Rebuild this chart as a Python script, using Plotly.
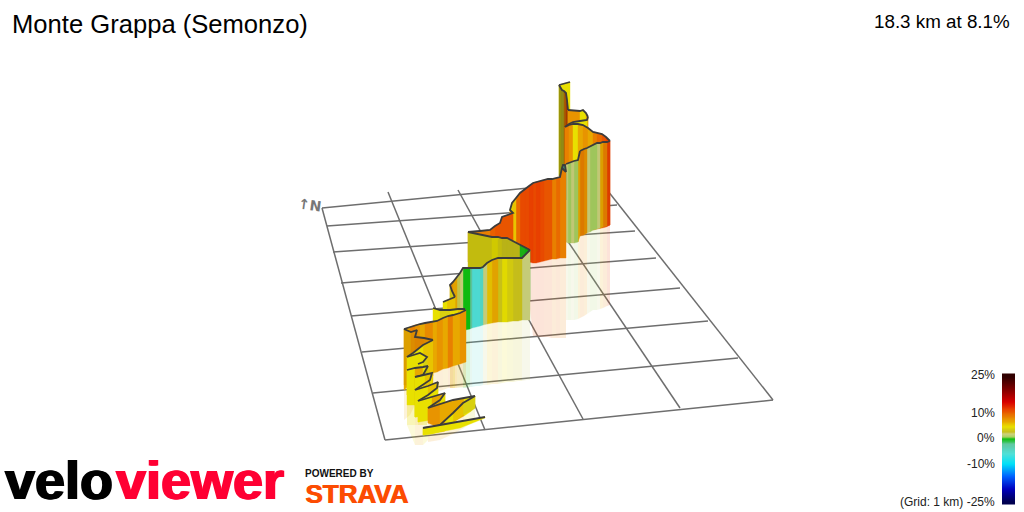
import plotly.graph_objects as go

# ---------- ground grid (picture coordinates) ----------
grid_left_x = [322, 327, 333, 341, 351, 362, 373, 385]
grid_left_y = [208, 226, 252, 283, 316, 352, 393, 440]
grid_right_x = [600, 617, 635, 656, 680, 708, 738, 773]
grid_right_y = [181, 205, 231, 258, 288, 321, 358, 400]
grid_far_x = [322, 388, 458, 530, 600]
grid_far_y = [208, 192, 190, 185, 181]
grid_near_x = [385, 485, 583, 680, 773]
grid_near_y = [440, 430, 419, 408, 400]

# ---------- gradient scale ----------
scale_pct = [-25, -20, -15, -10, -6, -2, 0, 1, 2, 3, 5, 7, 9, 12, 15, 20, 25]
scale_col = ["#000050", "#0000c0", "#0060ff", "#00e0f8", "#50e0d8", "#60c8a0", "#10c010",
             "#a8d060", "#ccd27c", "#c8c020", "#e8e000", "#e8a800", "#e88000", "#e84000",
             "#d80000", "#800000", "#300000"]
legend_pct = [25, 23, 21, 19, 17, 15, 13, 12, 11, 10, 9, 8, 7, 6, 5, 4, 3, 2, 1, 0, -1, -2, -3, -4, -6,
              -8, -10, -12, -14, -16, -18, -20, -22, -25]
legend_labels = ["25%", "10%", "0%", "-10%"]
legend_label_y = [375, 413, 438, 464]

# ---------- climb ribbons, far to near: x, ridge, ground, reflection end, grade ----------
t1_x = [559, 562, 566, 570]
t1_top = [85, 84, 83, 82]
t1_base = [176, 176, 176, 176]
t1_refl = [176, 176, 176, 176]
t1_g = [5, 5, 5]

t2_x = [559, 561, 562, 564, 566, 567, 568]
t2_top = [85, 88, 90, 91, 93, 100, 110]
t2_base = [176, 176, 176, 176, 176, 176, 176]
t2_refl = [176, 176, 176, 176, 176, 176, 176]
t2_g = [4, 3, 3, 9, 12, 9]

t3_x = [568, 575, 580, 583, 586, 588]
t3_top = [110, 111, 111, 110, 113, 117]
t3_base = [170, 170, 170, 170, 170, 170]
t3_refl = [170, 170, 170, 170, 170, 170]
t3_g = [8, 8, 5, 5, 7]

t4_x = [588, 587, 580, 573, 569, 565]
t4_top = [117, 120, 121, 122, 124, 127]
t4_base = [170, 170, 170, 170, 170, 170]
t4_refl = [170, 170, 170, 170, 170, 170]
t4_g = [7, 5, 5, 8, 9]

r3_x = [565, 569, 573, 578, 583, 588, 593, 597, 602, 606, 610]
r3_top = [127, 125, 124, 124, 125, 128, 132, 133, 134, 137, 141]
r3_base = [232, 232, 232, 232, 232, 230, 230, 229, 228, 227, 225]
r3_refl = [232, 232, 232, 232, 232, 230, 230, 229, 228, 227, 225]
r3_g = [9, 8, 5, 7, 8, 7, 9, 10, 11, 12]

r4_x = [610, 607, 603, 600, 597, 593, 590, 587, 584, 580]
r4_top = [141, 142, 142, 143, 143, 145, 147, 148, 149, 151]
r4_base = [225, 226, 227, 228, 229, 230, 232, 233, 235, 236]
r4_refl = [305, 306, 308, 309, 310, 310, 312, 314, 316, 318]
r4_g = [12, 9, 7, 2, 1, 1, 2, 8, 9]

r4b_x = [580, 578, 574, 571, 568, 566]
r4b_top = [151, 160, 161, 162, 163, 164]
r4b_base = [236, 242, 243, 243, 243, 242]
r4b_refl = [318, 319, 320, 320, 320, 320]
r4b_g = [7, 1, 2, 1, 2]

teal_x = [562, 563, 565, 566]
teal_top = [168, 165, 165, 172]
teal_base = [200, 200, 200, 200]
teal_refl = [200, 200, 200, 200]
teal_g = [-3, -3, -3]

r5_x = [566, 562, 560, 556, 552, 548, 544, 540, 536, 533, 529, 525, 520, 516, 512, 510, 513, 502, 500, 495, 490, 480, 468]
r5_top = [172, 168, 177, 178, 179, 179, 180, 181, 182, 183, 186, 189, 193, 198, 203, 210, 213, 217, 223, 226, 230, 231, 232]
r5_base = [258, 258, 258, 259, 259, 260, 261, 262, 263, 263, 262, 261, 260, 260, 260, 260, 260, 260, 260, 260, 260, 262, 262]
r5_refl = [338, 338, 338, 338, 338, 337, 337, 337, 336, 336, 300, 300, 300, 300, 300, 300, 300, 300, 300, 300, 300, 300, 300]
r5_g = [9, 9, 10, 9, 11, 11, 11.5, 12, 11.5, 12, 11.5, 11.5, 10, 6, 5, 9, 11, 11, 11, 10.5, 9, 9]

r6_x = [468, 478, 486, 492, 498, 502, 507, 513, 520, 525, 530]
r6_top = [232, 234, 236, 237, 237, 238, 238, 241, 245, 247, 250]
r6_base = [300, 300, 300, 300, 300, 300, 300, 300, 300, 300, 300]
r6_refl = [300, 300, 300, 300, 300, 300, 300, 300, 300, 300, 300]
r6_g = [4, 4, 4, 5, 4, 3.4, 3.4, 3.4, 0.1, 0]

r7_x = [530, 527, 522, 518, 513, 507, 502, 498, 492, 487, 483, 480, 476, 472, 470, 465, 463, 460, 457, 453, 450, 452, 455]
r7_top = [250, 253, 258, 258, 258, 258, 258, 258, 260, 263, 267, 268, 268, 268, 268, 268, 268, 273, 277, 282, 285, 291, 297]
r7_base = [320, 320, 320, 321, 321, 322, 322, 322, 323, 324, 325, 326, 327, 328, 329, 330, 330, 330, 330, 330, 330, 330, 330]
r7_refl = [380, 380, 381, 381, 382, 382, 383, 384, 384, 385, 385, 386, 386, 387, 387, 388, 388, 388, 388, 388, 388, 388, 388]
r7_g = [2, 2, 3.2, 3.2, 4, 5, 3.4, 7, 6, 2, -5, -6, -6, -2, 0, 0, 2, 2.5, 7, 8, 4, 4]

l0_x = [455, 450, 447, 443]
l0_top = [297, 299, 300, 302]
l0_base = [320, 320, 320, 320]
l0_refl = [320, 320, 320, 320]
l0_g = [6, 6, 5]

l1_x = [433, 440, 450, 458, 465]
l1_top = [308, 310, 310, 309, 309]
l1_base = [330, 330, 330, 330, 330]
l1_refl = [330, 330, 330, 330, 330]
l1_g = [5, 4, 5, 6]

l2_x = [404, 410, 415, 420, 425, 433, 437, 443, 448, 453, 460, 466]
l2_top = [329, 327, 325, 324, 323, 322, 321, 318, 316, 315, 313, 310]
l2_base = [390, 385, 380, 378, 375, 373, 372, 369, 368, 366, 364, 362]
l2_refl = [420, 415, 405, 402, 398, 395, 392, 390, 388, 388, 387, 387]
l2_g = [7, 9, 8, 7, 8.5, 7, 8, 7, 9, 7, 8]

l3_x = [404, 411, 417, 415, 424, 433]
l3_top = [329, 332, 330, 337, 338, 340]
l3_base = [385, 385, 385, 385, 380, 376]
l3_refl = [385, 385, 385, 385, 380, 376]
l3_g = [7, 8, 8.5, 8.5, 8]

l4_x = [433, 423, 413, 407]
l4_top = [340, 345, 353, 357]
l4_base = [384, 388, 392, 395]
l4_refl = [384, 388, 392, 395]
l4_g = [6, 5, 6]

z0_x = [407, 420, 427, 423, 418]
z0_top = [357, 353, 357, 362, 364]
z0_base = [395, 398, 398, 400, 400]
z0_refl = [425, 425, 425, 425, 425]
z0_g = [5, 5, 4, 5]

z1_x = [407, 415, 423, 428]
z1_top = [370, 368, 367, 366]
z1_base = [405, 405, 405, 404]
z1_refl = [425, 445, 445, 440]
z1_g = [5, 7, 5]

z2_x = [428, 423, 415]
z2_top = [366, 375, 377]
z2_base = [404, 410, 417]
z2_refl = [404, 410, 417]
z2_g = [5, 5]

z3_x = [415, 425, 432, 430, 423, 415]
z3_top = [377, 375, 373, 380, 385, 390]
z3_base = [417, 414, 410, 412, 416, 417]
z3_refl = [417, 414, 410, 412, 416, 417]
z3_g = [5, 6, 5, 6, 5]

z4_x = [415, 428, 438, 437, 428, 418]
z4_top = [390, 386, 382, 388, 395, 401]
z4_base = [417, 415, 412, 414, 418, 422]
z4_refl = [417, 415, 412, 414, 418, 422]
z4_g = [5, 6, 5, 5, 5]

z5_x = [418, 432, 445, 440, 434, 428]
z5_top = [401, 397, 393, 400, 404, 408]
z5_base = [422, 420, 418, 420, 422, 423]
z5_refl = [422, 420, 418, 420, 422, 423]
z5_g = [5, 7, 5, 7, 8]

z6_x = [428, 440, 453, 464, 470, 475]
z6_top = [408, 404, 400, 398, 397, 396]
z6_base = [423, 428, 422, 416, 412, 408]
z6_refl = [442, 440, 434, 428, 424, 420]
z6_g = [8, 7, 7, 5, 4]

z7_x = [475, 463, 453, 445, 440, 432, 423]
z7_top = [396, 403, 413, 421, 425, 427, 428]
z7_base = [408, 415, 423, 431, 432, 434, 435]
z7_refl = [408, 415, 423, 431, 432, 434, 435]
z7_g = [4, 6, 5, 7, 5, 5]

z8_x = [423, 440, 460, 475, 485]
z8_top = [428, 425, 422, 419, 417]
z8_base = [435, 432, 428, 422, 418]
z8_refl = [435, 432, 428, 422, 418]
z8_g = [5, 5, 5, 5]

ribbons = [
    (t1_x, t1_top, t1_base, t1_refl, t1_g, 1.0),
    (t2_x, t2_top, t2_base, t2_refl, t2_g, 0.72),
    (t3_x, t3_top, t3_base, t3_refl, t3_g, 1.0),
    (t4_x, t4_top, t4_base, t4_refl, t4_g, 1.0),
    (r3_x, r3_top, r3_base, r3_refl, r3_g, 1.0),
    (r4_x, r4_top, r4_base, r4_refl, r4_g, 0.95),
    (r4b_x, r4b_top, r4b_base, r4b_refl, r4b_g, 0.95),
    (teal_x, teal_top, teal_base, teal_refl, teal_g, 0.7),
    (r5_x, r5_top, r5_base, r5_refl, r5_g, 1.0),
    (r6_x, r6_top, r6_base, r6_refl, r6_g, 0.9),
    (r7_x, r7_top, r7_base, r7_refl, r7_g, 0.97),
    (l0_x, l0_top, l0_base, l0_refl, l0_g, 1.0),
    (l1_x, l1_top, l1_base, l1_refl, l1_g, 1.0),
    (l2_x, l2_top, l2_base, l2_refl, l2_g, 1.0),
    (l3_x, l3_top, l3_base, l3_refl, l3_g, 0.95),
    (l4_x, l4_top, l4_base, l4_refl, l4_g, 1.0),
    (z0_x, z0_top, z0_base, z0_refl, z0_g, 1.0),
    (z1_x, z1_top, z1_base, z1_refl, z1_g, 1.0),
    (z2_x, z2_top, z2_base, z2_refl, z2_g, 0.9),
    (z3_x, z3_top, z3_base, z3_refl, z3_g, 1.0),
    (z4_x, z4_top, z4_base, z4_refl, z4_g, 1.0),
    (z5_x, z5_top, z5_base, z5_refl, z5_g, 1.0),
    (z6_x, z6_top, z6_base, z6_refl, z6_g, 1.0),
    (z7_x, z7_top, z7_base, z7_refl, z7_g, 1.0),
    (z8_x, z8_top, z8_base, z8_refl, z8_g, 1.0),
]

def rgb(h):
    return [int(h[i:i + 2], 16) for i in (1, 3, 5)]

def grade_rgb(g, shade=1.0):
    g = max(scale_pct[0], min(scale_pct[-1], g))
    for i in range(len(scale_pct) - 1):
        if scale_pct[i] <= g <= scale_pct[i + 1]:
            f = (g - scale_pct[i]) / (scale_pct[i + 1] - scale_pct[i])
            a, b = rgb(scale_col[i]), rgb(scale_col[i + 1])
            return [int((a[k] + (b[k] - a[k]) * f) * shade) for k in range(3)]
    return [0, 0, 0]

def quad(x, y1, y2, i, color, width):
    return go.Scatter(x=[x[i], x[i + 1], x[i + 1], x[i], x[i]],
                      y=[y1[i], y1[i + 1], y2[i + 1], y2[i], y1[i]],
                      mode="lines", fill="toself", fillcolor=color,
                      line=dict(color=color, width=width), hoverinfo="skip", showlegend=False)

fig = go.Figure()
GRID = "#6e6e6e"

for i in range(len(grid_left_x)):
    fig.add_trace(go.Scatter(x=[grid_left_x[i], grid_right_x[i]], y=[grid_left_y[i], grid_right_y[i]],
                             mode="lines", line=dict(color=GRID, width=1.5), hoverinfo="skip", showlegend=False))
for i in range(len(grid_far_x)):
    fig.add_trace(go.Scatter(x=[grid_far_x[i], grid_near_x[i]], y=[grid_far_y[i], grid_near_y[i]],
                             mode="lines", line=dict(color=GRID, width=1.5), hoverinfo="skip", showlegend=False))

# reflections under the walls
for x, top, base, refl, g, shade in ribbons:
    for i in range(len(g)):
        if refl[i] == base[i] and refl[i + 1] == base[i + 1]:
            continue
        r, gg, b = grade_rgb(g[i])
        fig.add_trace(quad(x, base, refl, i, f"rgba({r},{gg},{b},0.15)", 0))

# walls and ridge lines
for x, top, base, refl, g, shade in ribbons:
    for i in range(len(g)):
        r, gg, b = grade_rgb(g[i], shade)
        fig.add_trace(quad(x, top, base, i, f"rgb({r},{gg},{b})", 0.4))
    fig.add_trace(go.Scatter(x=x, y=top, mode="lines", line=dict(color="#3c3c3c", width=1.8),
                             hoverinfo="skip", showlegend=False))

# gradient legend
legend_y = [376 + (25 - p) * 125 / 50 for p in legend_pct]
fig.add_trace(go.Heatmap(x=[1005.25, 1011.75], y=legend_y, z=[[p, p] for p in legend_pct],
                         zmin=-25, zmax=25, showscale=False, hoverinfo="skip", zsmooth="best",
                         colorscale=[[(p + 25) / 50, c] for p, c in zip(scale_pct, scale_col)]))

def text(x, y, s, size, color="#000", anchor="left", family="Liberation Sans", weight=None, shadow=None, angle=0):
    font = dict(family=family, size=size, color=color)
    if weight:
        font["weight"] = weight
    if shadow:
        font["shadow"] = shadow
    fig.add_annotation(x=x, y=y, text=s, showarrow=False, xanchor=anchor, yanchor="middle",
                       font=font, textangle=angle, xref="x", yref="y")

text(10, 24, "Monte Grappa (Semonzo)", 25.6)
text(1012, 21, "18.3 km at 8.1%", 18.8, anchor="right")
for y, lab in zip(legend_label_y, legend_labels):
    text(997, y, lab, 12, color="#222", anchor="right")
text(997, 502, "(Grid: 1 km) -25%", 12, color="#222", anchor="right")
text(295, 205, "↑N", 14, color="#777", family="DejaVu Sans", weight="bold", angle=8)
text(3, 480, "velo", 54, weight="bold", shadow="1px 0 0 #000, -1px 0 0 #000")
text(114, 480, "viewer", 54, color="#ff0033", weight="bold", shadow="1px 0 0 #ff0033, -1px 0 0 #ff0033")
text(303, 473, "POWERED BY", 10, color="#111", weight="bold")
text(303, 494, "STRAVA", 26, color="#fc4c02", weight="bold", shadow="1px 0 0 #fc4c02")

fig.update_layout(width=1024, height=512, margin=dict(l=0, r=0, t=0, b=0),
                  paper_bgcolor="white", plot_bgcolor="white", showlegend=False,
                  xaxis=dict(range=[0, 1024], visible=False, fixedrange=True),
                  yaxis=dict(range=[512, 0], visible=False, fixedrange=True))
fig.write_html("out.html", config={"displayModeBar": False},
               post_script="document.body.style.margin='0';document.body.style.overflow='hidden';")
